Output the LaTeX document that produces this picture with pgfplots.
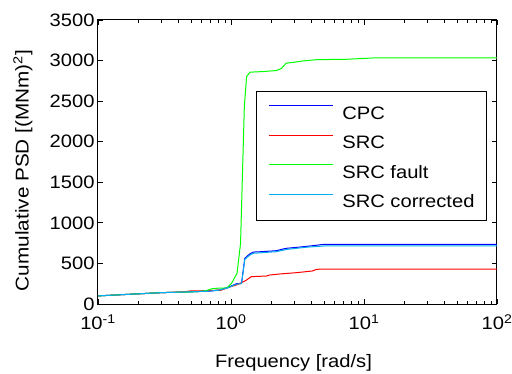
\documentclass[border=0pt]{standalone}
\usepackage{fontspec}
\setmainfont{Liberation Sans}[FakeStretch=1.12]
\usepackage{pgfplots}
\pgfplotsset{compat=1.18}
\newcommand{\ff}{\fontsize{18bp}{21bp}\selectfont}
\newcommand{\lstrut}{\rule[-4bp]{0pt}{21bp}}
\begin{document}
\begin{tikzpicture}
\useasboundingbox (-98bp,-70bp) rectangle (414bp,304bp);
\begin{axis}[
  scale only axis, width=399bp, height=284bp,
  xmode=log, xmin=0.1, xmax=100, ymin=0, ymax=3500,
  ytick={0,500,...,3500},
  xtick={0.1,1,10,100},
  xticklabels={10\textsuperscript{-1},10\textsuperscript{0},10\textsuperscript{1},10\textsuperscript{2}},
  /pgf/number format/assume math mode=true,
  /pgf/number format/1000 sep={},
  tick align=inside,
  major tick length=5bp, minor tick length=3bp,
  axis line style={line width=1bp},
  every tick/.style={black, line width=0.8bp},
  ticklabel style={font=\ff},
  xticklabel style={yshift=-7bp},
  xlabel={Frequency [rad/s]},
  ylabel={Cumulative PSD [(MNm)\textsuperscript{2}]},
  xlabel style={font=\ff, at={(axis description cs:0.49,-0.225)}, anchor=base},
  ylabel style={font=\fontsize{18.5bp}{22bp}\selectfont, at={(axis description cs:-0.188,0.47)}, anchor=center},
  legend style={at={(axis description cs:0.975,0.75)}, anchor=north east,
    draw=black, line width=1bp, font=\ff,
    inner xsep=12bp, inner ysep=11bp,
    nodes={inner sep=0pt},
    row sep=11bp},
  legend cell align=left,
  legend image code/.code={\draw[#1,line width=1.1bp] (0bp,6bp) -- (64bp,6bp);},
]
\addplot[blue, line width=1bp] coordinates {
(0.1,100) (0.2,125) (0.3,140) (0.5,150) (0.7,160) (0.82,172) (0.95,205) (1.1,250) (1.2,255)
(1.27,563) (1.38,616) (1.47,640) (1.7,645) (2.2,657) (2.5,680) (2.6,686) (3.7,710) (5.0,735) (100,735)};
\addlegendentry{\lstrut\hspace{9bp}CPC}
\addplot[red, line width=1bp] coordinates {
(0.1,100) (0.2,125) (0.3,140) (0.45,150) (0.5,162) (0.6,163) (0.85,172) (1.0,215) (1.1,234)
(1.27,283) (1.31,296) (1.42,337) (1.85,345) (1.95,357) (2.33,370) (3.1,386) (4.1,407) (4.4,428) (6.6,431) (100,431)};
\addlegendentry{\lstrut\hspace{9bp}SRC}
\addplot[green, line width=1bp] coordinates {
(0.1,99) (0.15,115) (0.2,125) (0.275,138) (0.35,143) (0.45,147) (0.55,150) (0.65,165) (0.72,188)
(0.8,195) (0.93,198) (1.01,255) (1.11,378) (1.18,748) (1.22,1611) (1.26,2433) (1.31,2803) (1.39,2857)
(1.75,2865) (2.2,2877) (2.4,2905) (2.6,2968) (3.0,2980) (3.5,2996) (4.4,3011) (7.4,3016) (11.7,3032) (100,3032)};
\addlegendentry{\lstrut\hspace{9bp}SRC fault}
\addplot[cyan, line width=1bp] coordinates {
(0.1,100) (0.2,125) (0.3,140) (0.5,150) (0.7,160) (0.82,172) (0.95,200) (1.1,245) (1.2,250)
(1.27,550) (1.38,600) (1.47,625) (1.7,632) (2.2,645) (2.5,665) (2.6,672) (3.7,700) (5.0,715) (100,715)};
\addlegendentry{\lstrut\hspace{9bp}SRC corrected}
\end{axis}
\end{tikzpicture}
\end{document}
